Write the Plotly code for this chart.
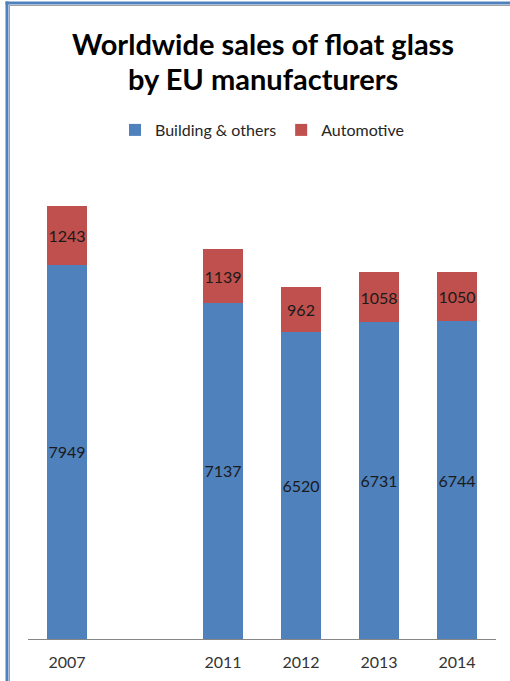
import plotly.graph_objects as go

years = ["2007", "2011", "2012", "2013", "2014"]
category_order = ["2007", " ", "2011", "2012", "2013", "2014"]
building = [7949, 7137, 6520, 6731, 6744]
automotive = [1243, 1139, 962, 1058, 1050]
title_lines = ["Worldwide sales of float glass", "by EU manufacturers"]

FONT = "Lato"
W, H = 510, 681
L, R, T, B = 28, 14, 168, 42
pw, ph = W - L - R, H - T - B

def px_x(x):
    return (x - L) / pw

def px_y(y):
    return (H - B - y) / ph

fig = go.Figure()
for name, vals, color in [("Building & others", building, "#4F81BD"),
                          ("Automotive", automotive, "#C0504D")]:
    fig.add_trace(go.Bar(
        name=name, x=years, y=vals,
        marker=dict(color=color, line=dict(width=0)),
        text=[str(v) for v in vals], textposition="inside", textangle=0,
        insidetextanchor="middle", constraintext="none",
        textfont=dict(family=FONT, size=16, color="#1a1a1a"),
    ))

annotations = []
for i, line in enumerate(title_lines):
    annotations.append(dict(
        text="<b>%s</b>" % line, xref="paper", yref="paper",
        x=px_x(263), y=px_y(43 + i * 35), xanchor="center", yanchor="middle",
        showarrow=False, font=dict(family=FONT, size=29, color="black"),
    ))

fig.update_layout(
    width=W, height=H,
    margin=dict(l=L, r=R, t=T, b=B, pad=0, autoexpand=False),
    barmode="stack", bargap=0.49,
    paper_bgcolor="white", plot_bgcolor="white",
    font=dict(family=FONT, color="#1a1a1a"),
    annotations=annotations,
    legend=dict(
        orientation="h", x=262 / W, xanchor="center", xref="container",
        y=1 - 130 / H, yanchor="middle", yref="container",
        font=dict(family=FONT, size=16, color="#262626"),
        traceorder="normal", itemwidth=30,
    ),
    showlegend=True,
    xaxis=dict(
        type="category", categoryorder="array", categoryarray=category_order,
        showline=True, linecolor="#868686", linewidth=1, automargin=False,
        ticks="outside", ticklen=9, tickcolor="rgba(0,0,0,0)",
        tickfont=dict(family=FONT, size=16, color="#333333"),
        showgrid=False, zeroline=False,
    ),
    yaxis=dict(
        range=[0, 10000], showticklabels=False, showgrid=False, automargin=False,
        zeroline=False, showline=False, ticks="",
    ),
    shapes=[
        dict(type="line", xref="paper", yref="paper",
             x0=px_x(7), x1=px_x(7), y0=px_y(700), y1=px_y(1.5),
             line=dict(color="#4F81BD", width=3), layer="above"),
        dict(type="line", xref="paper", yref="paper",
             x0=px_x(5.5), x1=px_x(530), y0=px_y(3), y1=px_y(3),
             line=dict(color="#4F81BD", width=3), layer="above"),
        dict(type="line", xref="paper", yref="paper",
             x0=px_x(9.5), x1=px_x(9.5), y0=px_y(700), y1=px_y(5),
             line=dict(color="#A0A0A0", width=1), layer="above"),
        dict(type="line", xref="paper", yref="paper",
             x0=px_x(9.5), x1=px_x(530), y0=px_y(5.5), y1=px_y(5.5),
             line=dict(color="#A0A0A0", width=1), layer="above"),
    ],
)

fig.write_html(
    "out.html",
    config={"displayModeBar": False},
    post_script="document.body.style.margin='0';document.body.style.overflow='hidden';",
)
